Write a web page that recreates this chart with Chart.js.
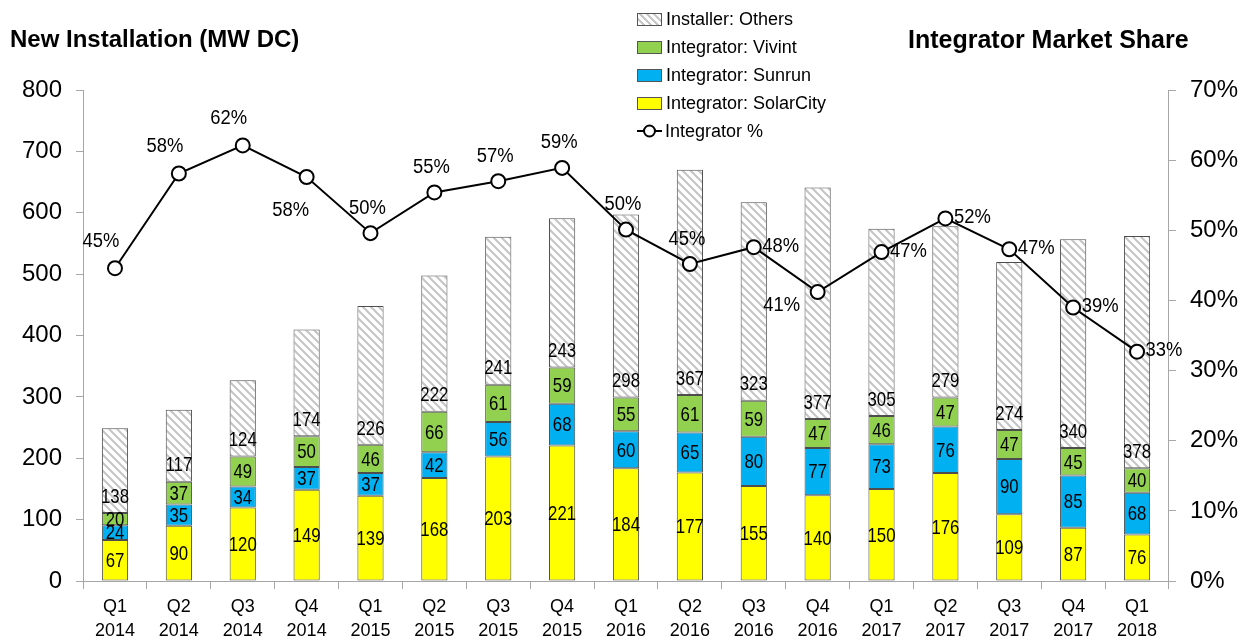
<!DOCTYPE html>
<html>
<head>
<meta charset="utf-8">
<script src="https://cdn.jsdelivr.net/npm/chart.js@4.4.1/dist/chart.umd.min.js"></script>
<style>
  body { margin: 0; background: #fff; font-family: "Liberation Sans", Arial, sans-serif; }
  #wrap { position: relative; width: 1247px; height: 640px; }
  .title { position: absolute; top: 25px; font-weight: bold; font-size: 24px; color: #000; }
  #legend { position: absolute; left: 637px; top: 5px; font-size: 18px; }
  #legend div { height: 28px; line-height: 24px; display: flex; align-items: center; }
  #legend .box { width: 23px; height: 11px; border: 1px solid #555; margin-right: 4px; }
  #legend .lineKey { width: 25px; height: 14px; margin-right: 3px; }
</style>
</head>
<body>
<div id="wrap">
  <canvas id="js-chart" width="1247" height="640"></canvas>
  <div class="title" style="left:10px">New Installation (MW DC)</div>
  <div class="title" style="left:908px; font-size:25px">Integrator Market Share</div>
  <div id="legend"></div>
</div>
<script>
const QUARTERS = [
  ["Q1", "2014"], ["Q2", "2014"], ["Q3", "2014"], ["Q4", "2014"],
  ["Q1", "2015"], ["Q2", "2015"], ["Q3", "2015"], ["Q4", "2015"],
  ["Q1", "2016"], ["Q2", "2016"], ["Q3", "2016"], ["Q4", "2016"],
  ["Q1", "2017"], ["Q2", "2017"], ["Q3", "2017"], ["Q4", "2017"],
  ["Q1", "2018"],
];
const SOLARCITY = [67, 90, 120, 149, 139, 168, 203, 221, 184, 177, 155, 140, 150, 176, 109, 87, 76];
const SUNRUN = [24, 35, 34, 37, 37, 42, 56, 68, 60, 65, 80, 77, 73, 76, 90, 85, 68];
const VIVINT = [20, 37, 49, 50, 46, 66, 61, 59, 55, 61, 59, 47, 46, 47, 47, 45, 40];
const OTHERS = [138, 117, 124, 174, 226, 222, 241, 243, 298, 367, 323, 377, 305, 279, 274, 340, 378];
const INTEGRATOR_PCT = [44.6, 58.1, 62.1, 57.6, 49.6, 55.4, 57.0, 58.9, 50.1, 45.2, 47.6, 41.2, 46.9, 51.7, 47.3, 39.0, 32.7];
const LEFT_TICKS = [0, 100, 200, 300, 400, 500, 600, 700, 800];
const RIGHT_TICKS = [0, 10, 20, 30, 40, 50, 60, 70];
// where each % label sits next to its point
const PCT_LABEL_SIDE = ["aboveLeft", "aboveLeft", "aboveLeft", "belowLeft", "above", "above", "above", "above",
  "above", "above", "right", "left", "right", "right", "right", "right", "right"];

function makeHatch() {
  const c = document.createElement("canvas");
  c.width = 8;
  c.height = 8;
  const g = c.getContext("2d");
  g.fillStyle = "#fff";
  g.fillRect(0, 0, 8, 8);
  g.strokeStyle = "#c4c4c4";
  g.lineWidth = 2;
  g.beginPath();
  g.moveTo(-2, -2); g.lineTo(10, 10);
  g.moveTo(-2, 6); g.lineTo(2, 10);
  g.moveTo(6, -2); g.lineTo(10, 2);
  g.stroke();
  return g.createPattern(c, "repeat");
}

// text squeezed a bit sideways, like the original
function narrowText(ctx, txt, x, y, sx) {
  ctx.save();
  ctx.translate(x, y);
  ctx.scale(sx, 1);
  ctx.fillText(txt, 0, 0);
  ctx.restore();
}

const barLabels = {
  id: "barLabels",
  afterDatasetsDraw(chart) {
    const ctx = chart.ctx;
    ctx.save();
    ctx.fillStyle = "#000";
    ctx.textAlign = "center";
    ctx.textBaseline = "middle";
    ctx.font = "21px 'Liberation Sans', Arial";
    chart.data.datasets.forEach((ds, di) => {
      if (ds.type === "line") return;
      const meta = chart.getDatasetMeta(di);
      meta.data.forEach((bar, i) => {
        const y = ds.label === "Installer: Others" ? bar.base - 17 : (bar.y + bar.base) / 2;
        narrowText(ctx, String(ds.data[i]), bar.x, y + 1, 0.8);
      });
    });
    // percent labels
    const li = chart.data.datasets.findIndex((d) => d.type === "line");
    const lmeta = chart.getDatasetMeta(li);
    ctx.font = "20px 'Liberation Sans', Arial";
    lmeta.data.forEach((pt, i) => {
      const txt = Math.round(INTEGRATOR_PCT[i]) + "%";
      let x = pt.x, y = pt.y;
      switch (PCT_LABEL_SIDE[i]) {
        case "above": x -= 3; y -= 25; break;
        case "aboveLeft": x -= 14; y -= 27; break;
        case "belowLeft": x -= 16; y += 33; break;
        case "right": x += 27; y -= 1; break;
        case "left": x -= 36; y += 13; break;
      }
      narrowText(ctx, txt, x, y, 0.92);
    });
    ctx.restore();
  },
};

function drawChart() {
  const context = document.getElementById("js-chart").getContext("2d");
  const hatch = makeHatch();
  const barStyle = { borderColor: "#4d4d4d", borderWidth: 1, borderSkipped: false, barPercentage: 0.41, categoryPercentage: 1, yAxisID: "y", order: 2 };
  const axisFont = { size: 24, family: "'Liberation Sans', Arial" };

  new Chart(context, {
    data: {
      labels: QUARTERS,
      datasets: [
        { type: "line", label: "Integrator %", data: INTEGRATOR_PCT, yAxisID: "y1", order: 0,
          borderColor: "#000", borderWidth: 2, pointRadius: 7, pointBorderWidth: 2,
          pointBackgroundColor: "#fff", pointBorderColor: "#000", tension: 0 },
        Object.assign({ type: "bar", label: "Integrator: SolarCity", data: SOLARCITY, backgroundColor: "#ffff00" }, barStyle),
        Object.assign({ type: "bar", label: "Integrator: Sunrun", data: SUNRUN, backgroundColor: "#00b0f0" }, barStyle),
        Object.assign({ type: "bar", label: "Integrator: Vivint", data: VIVINT, backgroundColor: "#92d050" }, barStyle),
        Object.assign({ type: "bar", label: "Installer: Others", data: OTHERS, backgroundColor: hatch }, barStyle),
      ],
    },
    options: {
      responsive: false,
      animation: false,
      layout: { padding: { left: 8, right: -5, top: 90, bottom: -9 } },
      plugins: { legend: { display: false }, tooltip: { enabled: false } },
      scales: {
        x: {
          stacked: true,
          grid: { offset: true, drawOnChartArea: false, drawTicks: true, tickLength: 8, color: "#a6a6a6" },
          border: { color: "#a6a6a6", width: 1 },
          ticks: { color: "#000", font: { size: 18, family: "'Liberation Sans', Arial", lineHeight: 1.33 }, padding: 6, maxRotation: 0 },
        },
        y: {
          stacked: true, min: 0, max: 800, position: "left",
          afterBuildTicks: (axis) => { axis.ticks = LEFT_TICKS.map((v) => ({ value: v })); },
          grid: { drawOnChartArea: false, tickLength: 7, color: "#a6a6a6" },
          border: { color: "#a6a6a6", width: 1 },
          ticks: { color: "#000", font: axisFont, padding: 14 },
        },
        y1: {
          min: 0, max: 70, position: "right",
          afterBuildTicks: (axis) => { axis.ticks = RIGHT_TICKS.map((v) => ({ value: v })); },
          grid: { drawOnChartArea: false, tickLength: 7, color: "#a6a6a6" },
          border: { color: "#a6a6a6", width: 1 },
          ticks: { color: "#000", font: axisFont, padding: 14,
            callback: (v) => v + "%" },
        },
      },
    },
    plugins: [barLabels],
  });
}

function drawLegend() {
  const items = [
    ["Installer: Others", "repeating-linear-gradient(45deg, #fff 0 3px, #c8c8c8 3px 5px)"],
    ["Integrator: Vivint", "#92d050"],
    ["Integrator: Sunrun", "#00b0f0"],
    ["Integrator: SolarCity", "#ffff00"],
  ];
  const el = document.getElementById("legend");
  items.forEach(([name, bg]) => {
    const row = document.createElement("div");
    row.innerHTML = '<span class="box" style="background:' + bg + '"></span><span>' + name + "</span>";
    el.appendChild(row);
  });
  const row = document.createElement("div");
  row.innerHTML = '<svg class="lineKey" width="25" height="14"><line x1="0" y1="7" x2="25" y2="7" stroke="#000" stroke-width="2"/>' +
    '<circle cx="12.5" cy="7" r="5.5" fill="#fff" stroke="#000" stroke-width="2"/></svg><span>Integrator %</span>';
  el.appendChild(row);
}

drawChart();
drawLegend();
</script>
</body>
</html>
